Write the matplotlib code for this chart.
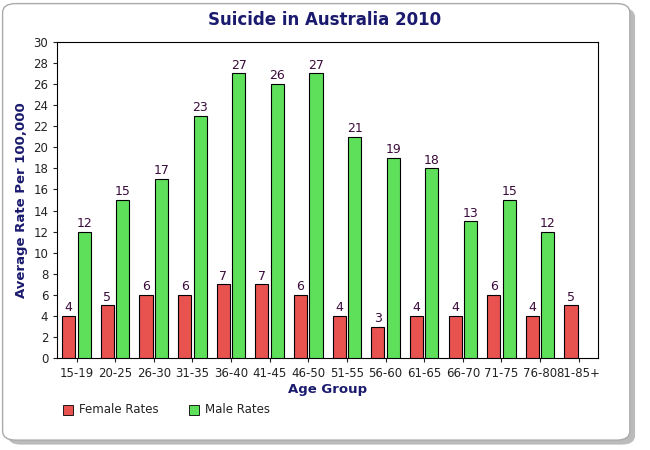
import matplotlib.pyplot as plt
from matplotlib.patches import FancyBboxPatch
import numpy as np

ages = ["15-19", "20-25", "26-30", "31-35", "36-40", "41-45", "46-50",
        "51-55", "56-60", "61-65", "66-70", "71-75", "76-80", "81-85+"]
female = [4, 5, 6, 6, 7, 7, 6, 4, 3, 4, 4, 6, 4, 5]
male = [12, 15, 17, 23, 27, 26, 27, 21, 19, 18, 13, 15, 12, None]

fig = plt.figure(figsize=(6.5, 4.5), dpi=100)
fig.patch.set_facecolor('white')
# rounded frame with shadow, kept behind the axes
fig.patches.append(FancyBboxPatch((0.012, 0.012), 0.965, 0.97, boxstyle="round,pad=0,rounding_size=0.02",
                                  transform=fig.transFigure, facecolor='#bbbbbb', edgecolor='none', zorder=-10))
fig.patches.append(FancyBboxPatch((0.004, 0.022), 0.965, 0.97, boxstyle="round,pad=0,rounding_size=0.02",
                                  transform=fig.transFigure, facecolor='white', edgecolor='#aaaaaa', zorder=-9))

ax = fig.add_axes([0.088, 0.204, 0.832, 0.703])
ax.set_zorder(5)
x = np.arange(len(ages))
w = 0.34
for i in x:
    ax.bar(i - 0.2, female[i], w, color='#e8524f', edgecolor='black', linewidth=0.8, zorder=3)
    ax.text(i - 0.2, female[i] + 0.15, str(female[i]), ha='center', va='bottom', fontsize=9, color='#3a0a3a')
    if male[i] is not None:
        ax.bar(i + 0.2, male[i], w, color='#5ee05a', edgecolor='black', linewidth=0.8, zorder=3)
        ax.text(i + 0.2, male[i] + 0.15, str(male[i]), ha='center', va='bottom', fontsize=9, color='#3a0a3a')

ax.set_xlim(-0.5, len(ages) - 0.5)
ax.set_ylim(0, 30)
ax.set_yticks(range(0, 31, 2))
ax.set_xticks(x)
ax.set_xticklabels(ages)
ax.tick_params(labelsize=8.5, colors='#222222', length=3)
ax.set_xlabel('Age Group', color='#1a1a6e', fontweight='bold', fontsize=9.5, labelpad=2)
ax.set_ylabel('Average Rate Per 100,000', color='#1a1a6e', fontweight='bold', fontsize=9.5)
fig.text(0.5, 0.955, 'Suicide in Australia 2010', ha='center', va='center',
         color='#1a1a6e', fontweight='bold', fontsize=12)

fig.patches.append(plt.Rectangle((0.097, 0.078), 0.016, 0.022, transform=fig.transFigure,
                                 facecolor='#e8524f', edgecolor='black', linewidth=0.6))
fig.text(0.122, 0.089, 'Female Rates', va='center', fontsize=8.5, color='#222222')
fig.patches.append(plt.Rectangle((0.29, 0.078), 0.016, 0.022, transform=fig.transFigure,
                                 facecolor='#5ee05a', edgecolor='black', linewidth=0.6))
fig.text(0.315, 0.089, 'Male Rates', va='center', fontsize=8.5, color='#222222')

fig.savefig('out.png', dpi=100)
